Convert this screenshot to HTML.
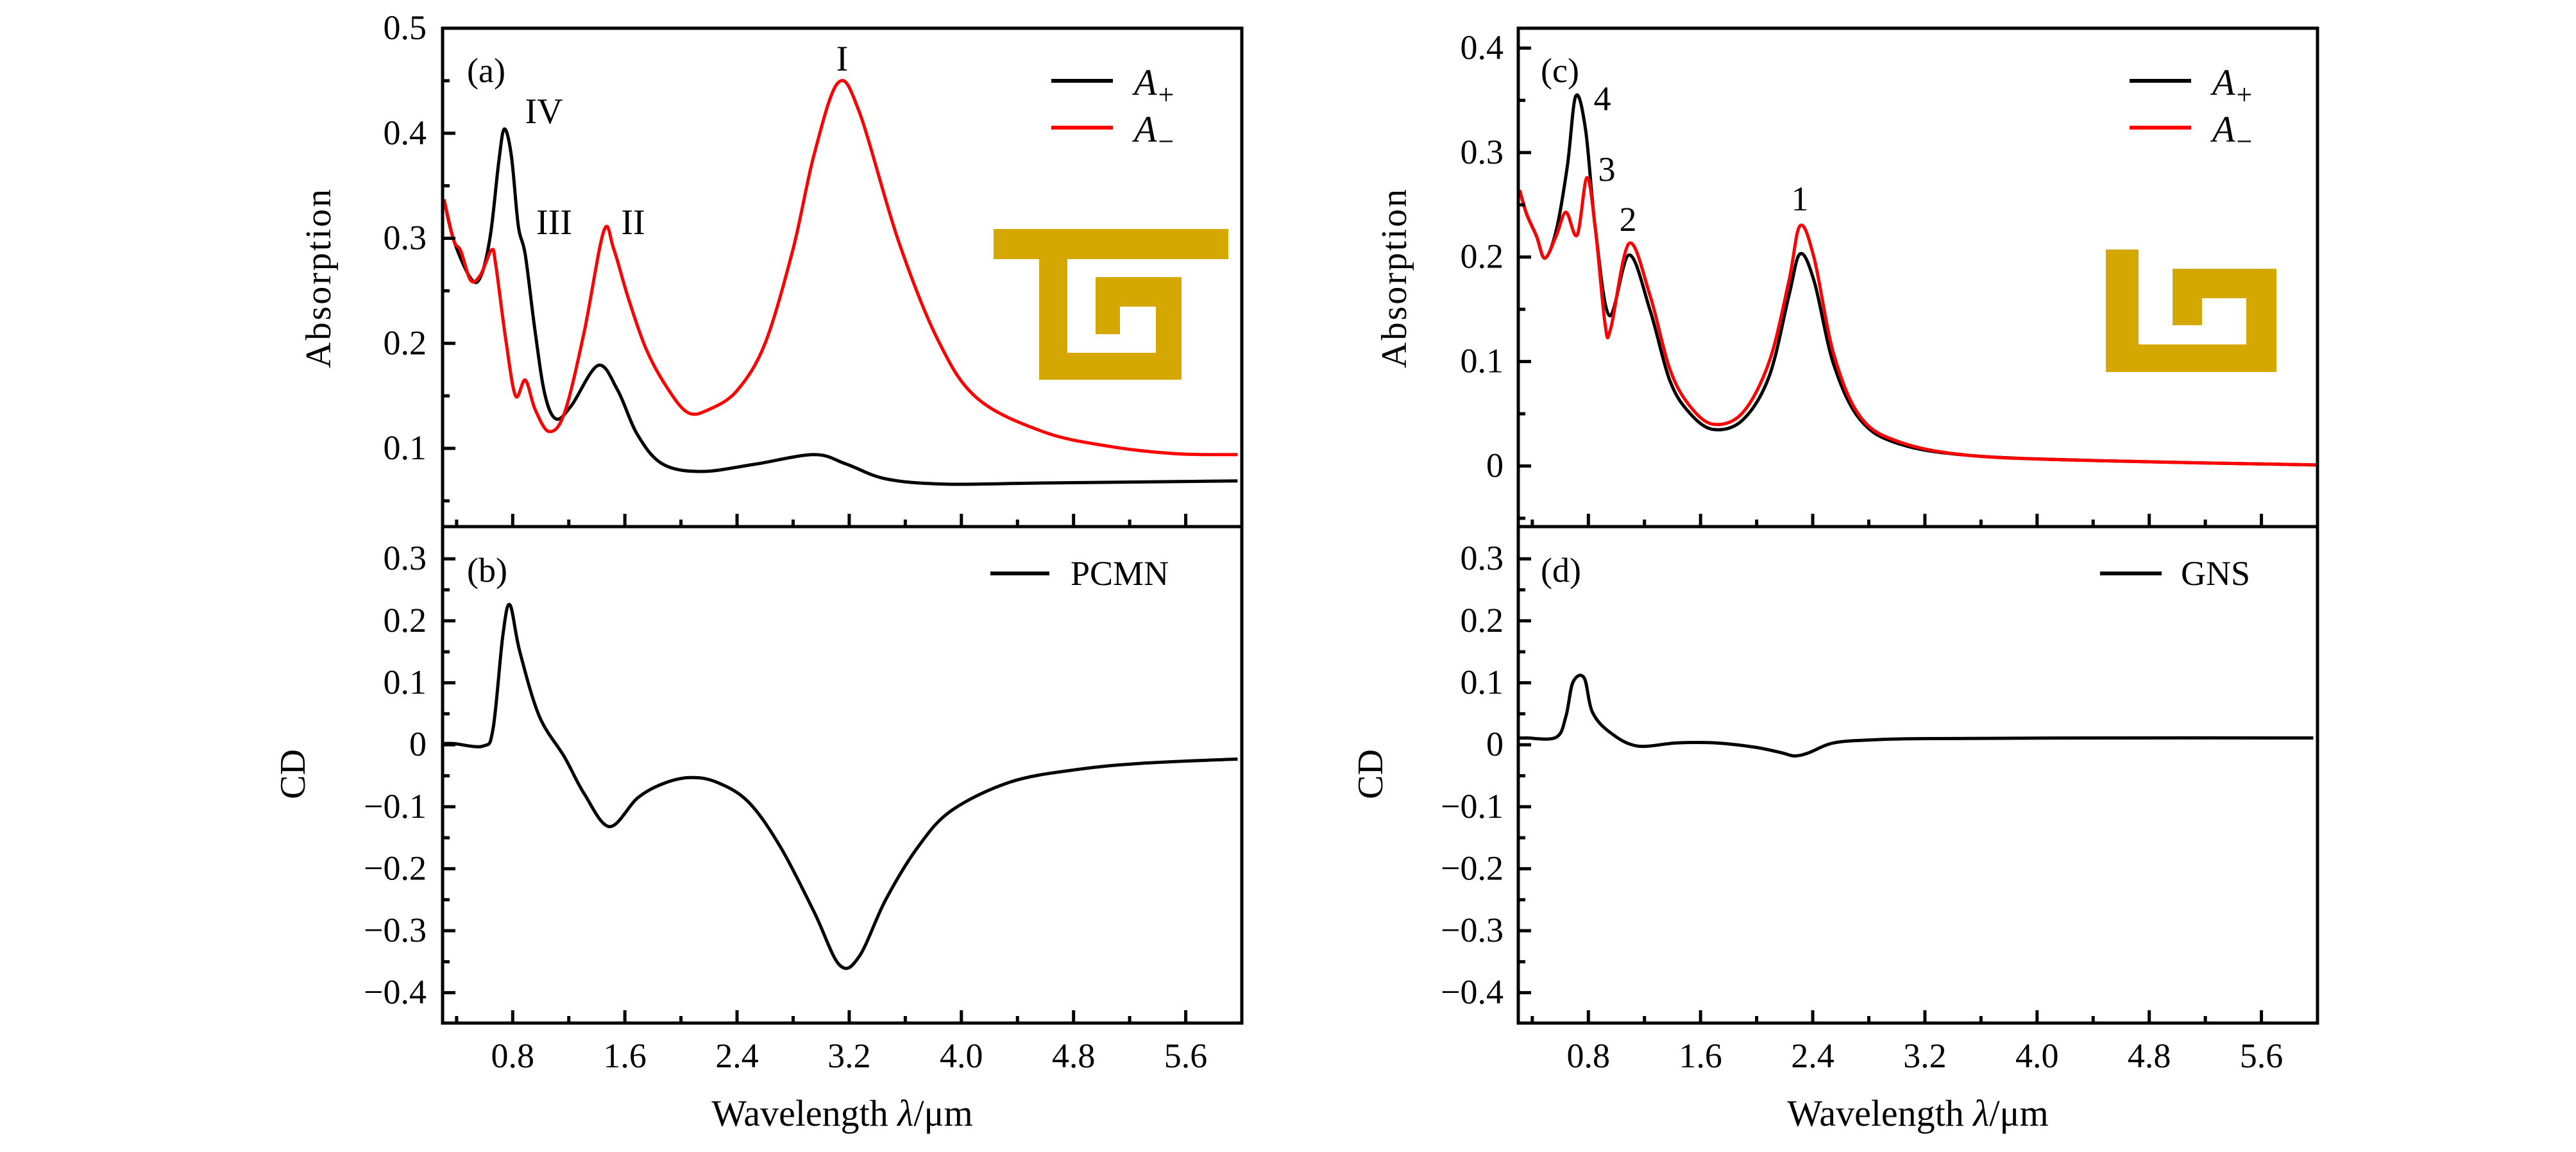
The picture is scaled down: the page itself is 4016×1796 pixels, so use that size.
<!DOCTYPE html>
<html><head><meta charset="utf-8">
<style>
html,body{margin:0;padding:0;background:#fff;}
svg{display:block;}
text{font-family:"Liberation Serif","DejaVu Serif",serif;fill:#000;}
</style></head>
<body>
<svg id="fig" width="4016" height="1796" viewBox="0 0 4016 1796" xmlns="http://www.w3.org/2000/svg"></svg>
<script>
// ---- data ----
const aPlusLam  = [0.31,0.38,0.50,0.57,0.64,0.70,0.74,0.79,0.84,0.89,0.96,1.03,1.11,1.22,1.41,1.55,1.69,1.87,2.15,2.53,2.95,3.18,3.46,3.88,4.58,5.97];
const aPlusVal  = [0.337,0.298,0.262,0.263,0.302,0.372,0.404,0.379,0.312,0.284,0.211,0.151,0.128,0.141,0.179,0.155,0.113,0.085,0.078,0.085,0.094,0.085,0.071,0.066,0.067,0.069];
const aMinusLam = [0.31,0.38,0.43,0.50,0.57,0.65,0.68,0.75,0.82,0.89,0.96,1.06,1.17,1.31,1.45,1.52,1.62,1.75,1.90,2.05,2.20,2.40,2.60,2.80,2.95,3.12,3.27,3.55,3.83,4.11,4.58,5.05,5.52,5.97];
const aMinusVal = [0.337,0.298,0.288,0.260,0.265,0.289,0.274,0.204,0.150,0.165,0.137,0.116,0.134,0.211,0.307,0.290,0.245,0.195,0.158,0.134,0.137,0.155,0.200,0.290,0.380,0.448,0.421,0.298,0.204,0.148,0.116,0.102,0.095,0.094];
const cdPcmnLam = [0.31,0.38,0.59,0.66,0.73,0.78,0.85,0.99,1.17,1.31,1.49,1.69,1.87,2.06,2.25,2.48,2.71,2.95,3.13,3.27,3.46,3.69,3.93,4.35,4.82,5.28,5.97];
const cdPcmnVal = [0.002,0.002,-0.002,0.026,0.177,0.226,0.151,0.046,-0.020,-0.079,-0.132,-0.086,-0.063,-0.053,-0.060,-0.092,-0.165,-0.270,-0.355,-0.342,-0.250,-0.165,-0.106,-0.060,-0.040,-0.030,-0.023];
const cPlusLam  = [0.31,0.36,0.43,0.49,0.57,0.65,0.71,0.78,0.85,0.95,1.09,1.24,1.38,1.52,1.69,1.90,2.09,2.23,2.31,2.41,2.55,2.74,3.02,3.53,4.47,5.99];
const cPlusVal  = [0.264,0.241,0.220,0.199,0.225,0.287,0.354,0.322,0.227,0.144,0.202,0.149,0.082,0.051,0.035,0.044,0.086,0.163,0.203,0.177,0.097,0.044,0.021,0.010,0.005,0.001];
const cMinusLam = [0.31,0.36,0.43,0.49,0.57,0.64,0.72,0.79,0.85,0.92,0.96,1.09,1.24,1.38,1.52,1.69,1.90,2.09,2.23,2.31,2.41,2.55,2.74,3.02,3.53,4.47,5.99];
const cMinusVal = [0.264,0.241,0.220,0.199,0.220,0.243,0.221,0.276,0.227,0.135,0.132,0.213,0.163,0.093,0.058,0.040,0.051,0.100,0.177,0.230,0.199,0.107,0.047,0.023,0.010,0.005,0.001];
const cdGnsLam  = [0.31,0.36,0.57,0.64,0.69,0.77,0.83,0.96,1.15,1.43,1.71,1.99,2.18,2.27,2.37,2.55,2.83,3.21,4.50,5.97];
const cdGnsVal  = [0.011,0.011,0.012,0.046,0.101,0.108,0.052,0.019,-0.002,0.003,0.003,-0.004,-0.013,-0.018,-0.013,0.003,0.008,0.010,0.011,0.011];
const xTickVals = [0.4,0.8,1.2,1.6,2.0,2.4,2.8,3.2,3.6,4.0,4.4,4.8,5.2,5.6];
const xTickLabels = ["0.8","1.6","2.4","3.2","4.0","4.8","5.6"];
const yTicksA = ["0.1","0.2","0.3","0.4","0.5"];
const yTicksC = ["0","0.1","0.2","0.3","0.4"];
const yTicksCD = ["−0.4","−0.3","−0.2","−0.1","0","0.1","0.2","0.3"];

const NS="http://www.w3.org/2000/svg";
const svg=document.getElementById('fig');
function mk(tag,attrs,parent){const e=document.createElementNS(NS,tag);for(const k in attrs)e.setAttribute(k,attrs[k]);(parent||svg).appendChild(e);return e;}
function axis(x0,x1,y0,y1,lmin,lmax,vmin,vmax){
  return {x:l=>x0+(l-lmin)/(lmax-lmin)*(x1-x0), y:v=>y1-(v-vmin)/(vmax-vmin)*(y1-y0), x0,x1,y0,y1};
}
function smoothPath(ax,L,V){
  const p=L.map((l,i)=>[ax.x(l),ax.y(V[i])]);
  let d="M"+p[0][0].toFixed(1)+","+p[0][1].toFixed(1);
  for(let i=0;i<p.length-1;i++){
    const p0=p[i-1]||p[i],p1=p[i],p2=p[i+1],p3=p[i+2]||p[i+1];
    const c1=[p1[0]+(p2[0]-p0[0])/6,p1[1]+(p2[1]-p0[1])/6];
    const c2=[p2[0]-(p3[0]-p1[0])/6,p2[1]-(p3[1]-p1[1])/6];
    d+=` C${c1[0].toFixed(1)},${c1[1].toFixed(1)} ${c2[0].toFixed(1)},${c2[1].toFixed(1)} ${p2[0].toFixed(1)},${p2[1].toFixed(1)}`;
  }
  return d;
}
function series(ax,L,V,color,name){
  const e=mk('path',{d:smoothPath(ax,L,V),fill:'none',stroke:color,'stroke-width':5,'stroke-linejoin':'round'});
  
  
}
function txt(x,y,s,size,anchor,name,extra){
  const e=mk('text',Object.assign({x,y,'font-size':size,'text-anchor':anchor||'start'},extra||{}));
  e.textContent=s;
  
  
  return e;
}
function frame(ax,name){
  const r=mk('rect',{x:ax.x0,y:ax.y0,width:ax.x1-ax.x0,height:ax.y1-ax.y0,fill:'none',stroke:'#000','stroke-width':5});
  
  
}
function yTicks(ax,labels,step,lblX,name){
  const vals=labels.map(s=>parseFloat(s.replace('−','-')));
  vals.forEach((v,i)=>{
    mk('line',{x1:ax.x0,x2:ax.x0+20,y1:ax.y(v),y2:ax.y(v),stroke:'#000','stroke-width':5});
    txt(lblX,ax.y(v)+17,labels[i],54,'end',name+'-tick-label');
    const m=v-step/2;
    if(ax.y(m)<ax.y1-3) mk('line',{x1:ax.x0,x2:ax.x0+11,y1:ax.y(m),y2:ax.y(m),stroke:'#000','stroke-width':5});
  });
  const top=vals[vals.length-1]+step/2;
  if(ax.y(top)>ax.y0+3) mk('line',{x1:ax.x0,x2:ax.x0+11,y1:ax.y(top),y2:ax.y(top),stroke:'#000','stroke-width':5});
}
function xTicks(ax,labels){
  xTickVals.forEach((v,i)=>{
    const major=(i%2===1);
    mk('line',{x1:ax.x(v),x2:ax.x(v),y1:ax.y1,y2:ax.y1-(major?20:11),stroke:'#000','stroke-width':5});
  });
  if(labels){
    xTickLabels.forEach(s=>txt(ax.x(parseFloat(s)),1664,s,54,'middle','x-tick-label'));
  }
}
function legendLine(x1,x2,y,color,name){
  const e=mk('line',{x1,x2,y1:y,y2:y,stroke:color,'stroke-width':6});
  
  
}
function legendA(x,y,sub,name){
  const t=txt(x,y,'',58,'start',name,{'font-style':'italic'});
  t.textContent='A';
  const s=mk('tspan',{'font-style':'normal','font-size':44,dy:14,dx:2},t);
  s.textContent=sub;
}
function rects(list,name){
  const g=mk('g',{fill:'#D4A800'});
  
  
  list.forEach(r=>mk('rect',{x:r[0],y:r[1],width:r[2]-r[0],height:r[3]-r[1]},g));
}

const axA=axis(690,1936,44,821,0.3,6.0,0.0255,0.5);
const axB=axis(690,1936,821,1595,0.3,6.0,-0.449,0.352);
const axC=axis(2367,3613,44,821,0.3,6.0,-0.058,0.419);
const axD=axis(2367,3613,821,1595,0.3,6.0,-0.449,0.352);

rects([[1549,357,1915,404],[1620,404,1664,592],[1620,550,1842,592],[1802,432,1842,592],[1708,432,1842,478],[1708,432,1746,521]],'pcmn-structure-icon');
rects([[3283,389,3334,580],[3283,537,3549,580],[3502,419,3549,580],[3387,419,3549,465],[3387,419,3433,507]],'gns-structure-icon');

series(axA,aPlusLam,aPlusVal,'#000','a-plus-line-a');
series(axA,aMinusLam,aMinusVal,'#ff0000','a-minus-line-a');
series(axB,cdPcmnLam,cdPcmnVal,'#000','cd-pcmn-line');
series(axC,cPlusLam,cPlusVal,'#000','a-plus-line-c');
series(axC,cMinusLam,cMinusVal,'#ff0000','a-minus-line-c');
series(axD,cdGnsLam,cdGnsVal,'#000','cd-gns-line');

[axA,axB,axC,axD].forEach((a,i)=>frame(a,['panel-a-frame','panel-b-frame','panel-c-frame','panel-d-frame'][i]));
yTicks(axA,yTicksA,0.1,665,'y-a');
yTicks(axB,yTicksCD,0.1,665,'y-b');
yTicks(axC,yTicksC,0.1,2344,'y-c');
yTicks(axD,yTicksCD,0.1,2344,'y-d');
xTicks(axA,false);xTicks(axB,true);xTicks(axC,false);xTicks(axD,true);

txt(axB.x0+(axB.x1-axB.x0)/2,1755,'',58,'middle','x-axis-title-left').innerHTML='Wavelength <tspan font-style="italic">λ</tspan>/μm';
txt(axD.x0+(axD.x1-axD.x0)/2,1755,'',58,'middle','x-axis-title-right').innerHTML='Wavelength <tspan font-style="italic">λ</tspan>/μm';
txt(0,0,'Absorption',56,'middle','y-axis-title-a',{transform:'translate(515,433) rotate(-90)','letter-spacing':'3'});
txt(0,0,'CD',56,'middle','y-axis-title-b',{transform:'translate(475,1207) rotate(-90)'});
txt(0,0,'Absorption',56,'middle','y-axis-title-c',{transform:'translate(2192,433) rotate(-90)','letter-spacing':'3'});
txt(0,0,'CD',56,'middle','y-axis-title-d',{transform:'translate(2155,1207) rotate(-90)'});

txt(728,128,'(a)',54,'start','panel-label-a');
txt(728,907,'(b)',54,'start','panel-label-b');
txt(2402,128,'(c)',54,'start','panel-label-c');
txt(2402,907,'(d)',54,'start','panel-label-d');

txt(1313,110,'I',56,'middle','peak-label-I');
txt(848,192,'IV',56,'middle','peak-label-IV');
txt(864,365,'III',56,'middle','peak-label-III');
txt(987,365,'II',56,'middle','peak-label-II');
txt(2498,172,'4',54,'middle','peak-label-4');
txt(2505,282,'3',54,'middle','peak-label-3');
txt(2538,360,'2',54,'middle','peak-label-2');
txt(2806,328,'1',54,'middle','peak-label-1');

legendLine(1639,1735,126,'#000','legend-a-plus-line');
legendLine(1639,1735,199,'#ff0000','legend-a-minus-line');
legendA(1768,148,'+','legend-a-plus-label');
legendA(1768,221,'−','legend-a-minus-label');
legendLine(1544,1636,894,'#000','legend-pcmn-line');
txt(1669,912,'PCMN',54,'start','legend-pcmn-label');
legendLine(3320,3416,126,'#000','legend-c-plus-line');
legendLine(3320,3416,199,'#ff0000','legend-c-minus-line');
legendA(3449,148,'+','legend-c-plus-label');
legendA(3449,221,'−','legend-c-minus-label');
legendLine(3274,3370,894,'#000','legend-gns-line');
txt(3400,912,'GNS',54,'start','legend-gns-label');
</script>
</body></html>
